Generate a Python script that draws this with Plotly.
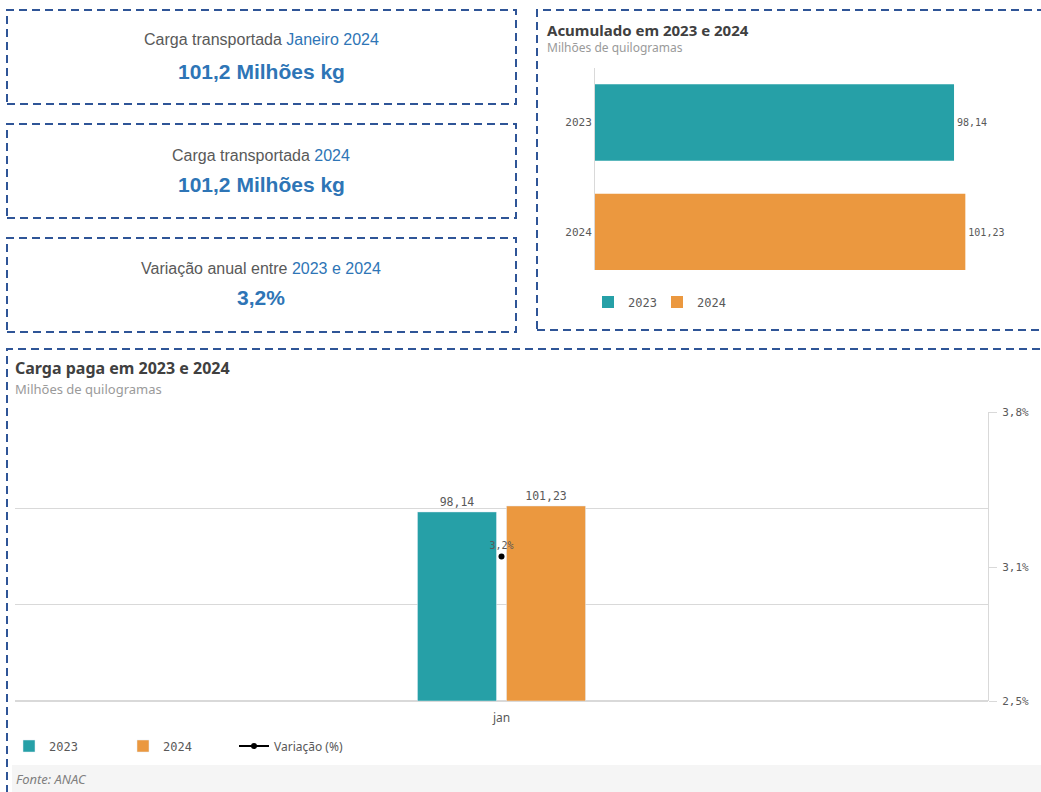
import plotly.graph_objects as go

W, H = 1041, 792

# ---- data ----
years = ["2023", "2024"]
acumulado = [98.14, 101.23]
months = ["jan"]
carga_2023 = [98.14]
carga_2024 = [101.23]
variacao = [3.15]
variacao_labels = ["3,2%"]
right_ticks = [2.5, 3.1, 3.8]
right_ticklabels = ["2,5%", "3,1%", "3,8%"]
kpi_titles = [("Carga transportada ", "Janeiro 2024"),
              ("Carga transportada ", "2024"),
              ("Variação anual entre ", "2023 e 2024")]
kpi_values = ["101,2 Milhões kg", "101,2 Milhões kg", "3,2%"]

TEAL = "#26a0a7"
ORANGE = "#eb983f"
BLUE = "#2e75b6"
DASH = "#2f5597"
GRAY = "#595959"
LIGHT = "#d9d9d9"
MONO = "DejaVu Sans Mono"
SANS = "Liberation Sans"
TITLE = "Noto Sans"


def px(x):
    return x / W


def py(y):
    return 1 - y / H


fig = go.Figure()

# ---- top-right horizontal bars ----
colors = [TEAL, ORANGE]
for i, (yr, v) in enumerate(zip(years, acumulado)):
    fig.add_trace(go.Bar(
        x=[v], y=[i], orientation="h", name=yr,
        marker=dict(color=colors[i], line=dict(width=0)),
        width=0.7, offset=-0.35,
        text=[f"{v:.2f}".replace(".", ",")], textposition="outside",
        textfont=dict(family=MONO, size=10, color=GRAY),
        cliponaxis=False, xaxis="x", yaxis="y", legend="legend",
        hoverinfo="skip",
    ))

# ---- bottom grouped bars ----
fig.add_trace(go.Bar(
    x=months, y=carga_2023, name="2023", marker=dict(color=TEAL),
    text=[f"{v:.2f}".replace(".", ",") for v in carga_2023], textposition="outside",
    textfont=dict(family=MONO, size=11.5, color=GRAY), cliponaxis=False,
    xaxis="x2", yaxis="y2", legend="legend2",
))
fig.add_trace(go.Bar(
    x=months, y=carga_2024, name="2024", marker=dict(color=ORANGE),
    text=[f"{v:.2f}".replace(".", ",") for v in carga_2024], textposition="outside",
    textfont=dict(family=MONO, size=11.5, color=GRAY), cliponaxis=False,
    xaxis="x2", yaxis="y2", legend="legend2",
))
fig.add_trace(go.Scatter(
    x=months, y=variacao, name="Variação (%)", mode="lines+markers+text",
    text=variacao_labels, textposition="top center",
    textfont=dict(family=MONO, size=10, color=GRAY),
    marker=dict(color="black", size=6), line=dict(color="black", width=2),
    cliponaxis=False, xaxis="x2", yaxis="y3", legend="legend3",
))

shapes = []
dash_line = dict(color=DASH, width=2, dash="8px,5px")
for (y0, y1) in [(10, 104), (124, 218), (238, 332)]:
    shapes.append(dict(type="rect", xref="paper", yref="paper",
                       x0=px(7), x1=px(516), y0=py(y1), y1=py(y0), line=dash_line))
shapes.append(dict(type="rect", xref="paper", yref="paper",
                   x0=px(537), x1=px(1060), y0=py(330), y1=py(10), line=dash_line))
shapes.append(dict(type="rect", xref="paper", yref="paper",
                   x0=px(7), x1=px(1060), y0=py(810), y1=py(349), line=dash_line))
shapes.append(dict(type="rect", xref="paper", yref="paper", layer="below",
                   x0=px(12), x1=px(1060), y0=py(800), y1=py(765),
                   fillcolor="#f5f5f5", line=dict(width=0)))

annotations = []
kpi_text_y = [40, 155, 268]
kpi_val_y = [71, 185, 297]
for (a, b), v, ty, vy in zip(kpi_titles, kpi_values, kpi_text_y, kpi_val_y):
    annotations.append(dict(xref="paper", yref="paper", x=px(261), y=py(ty),
                            xanchor="center", yanchor="middle", showarrow=False,
                            text=f"{a}<span style='color:{BLUE}'>{b}</span>",
                            font=dict(family=SANS, size=16, color=GRAY)))
    annotations.append(dict(xref="paper", yref="paper", x=px(261), y=py(vy),
                            xanchor="center", yanchor="middle", showarrow=False,
                            text=f"<b>{v}</b>",
                            font=dict(family=SANS, size=21, color=BLUE)))

annotations += [
    dict(xref="paper", yref="paper", x=px(545), y=py(30), xanchor="left", yanchor="middle",
         showarrow=False, text="<b>Acumulado em 2023 e 2024</b>",
         font=dict(family=TITLE, size=15, color="#404040")),
    dict(xref="paper", yref="paper", x=px(545), y=py(48), xanchor="left", yanchor="middle",
         showarrow=False, text="Milhões de quilogramas",
         font=dict(family=TITLE, size=12, color="#9a9a9a")),
    dict(xref="paper", yref="paper", x=px(13), y=py(368), xanchor="left", yanchor="middle",
         showarrow=False, text="<b>Carga paga em 2023 e 2024</b>",
         font=dict(family=TITLE, size=16, color="#404040")),
    dict(xref="paper", yref="paper", x=px(13), y=py(389), xanchor="left", yanchor="middle",
         showarrow=False, text="Milhões de quilogramas",
         font=dict(family=TITLE, size=13, color="#9a9a9a")),
    dict(xref="paper", yref="paper", x=px(14), y=py(779), xanchor="left", yanchor="middle",
         showarrow=False, text="<i>Fonte: ANAC</i>",
         font=dict(family=TITLE, size=13, color="#7f7f7f")),
]

fig.update_layout(
    width=W, height=H,
    margin=dict(l=0, r=0, t=0, b=0, pad=0, autoexpand=False),
    paper_bgcolor="white", plot_bgcolor="white",
    separators=",.",
    barmode="group", bargap=0.817, bargroupgap=0.112,
    shapes=shapes, annotations=annotations,
    xaxis=dict(domain=[px(595), px(1034)], range=[0, 120], showgrid=False, automargin=False,
               showticklabels=False, zeroline=False, showline=False, anchor="y"),
    yaxis=dict(domain=[py(270), py(68)], range=[1.347, -0.498], anchor="x", automargin=False,
               tickvals=[0, 1], ticktext=years, showgrid=False, zeroline=False,
               showline=True, linecolor=LIGHT, linewidth=1, ticks="",
               tickfont=dict(family=MONO, size=11, color=GRAY)),
    xaxis2=dict(domain=[px(15), px(988)], anchor="y2", showgrid=False, zeroline=False,
                showline=False, ticks="", range=[-0.5, 0.5], ticklabelstandoff=8,
                automargin=False, tickfont=dict(family=TITLE, size=12, color=GRAY)),
    yaxis2=dict(domain=[py(701), py(412)], anchor="x2", range=[0, 150], automargin=False,
                tickvals=[0, 50, 100, 150], showticklabels=False, showgrid=True,
                gridcolor=LIGHT, zeroline=True, zerolinecolor=LIGHT, showline=False, ticks=""),
    yaxis3=dict(overlaying="y2", side="right", anchor="x2", range=[2.5, 3.8],
                tickvals=right_ticks, ticktext=right_ticklabels, showgrid=False,
                zeroline=False, showline=True, linecolor=LIGHT, linewidth=1, automargin=False,
                ticks="outside", ticklen=8, tickcolor=LIGHT, ticklabelstandoff=3,
                tickfont=dict(family=MONO, size=11, color=GRAY)),
    legend=dict(orientation="h", x=px(588), y=py(302), xanchor="left", yanchor="middle",
                font=dict(family=MONO, size=12, color=GRAY), bgcolor="rgba(0,0,0,0)",
                entrywidth=24, itemwidth=30, traceorder="normal"),
    legend2=dict(orientation="h", x=px(9), y=py(746), xanchor="left", yanchor="middle",
                 font=dict(family=MONO, size=12, color=GRAY), bgcolor="rgba(0,0,0,0)",
                 entrywidth=69, itemwidth=30, traceorder="normal"),
    legend3=dict(orientation="h", x=px(234), y=py(746), xanchor="left", yanchor="middle",
                 font=dict(family=TITLE, size=12, color=GRAY), bgcolor="rgba(0,0,0,0)",
                 itemwidth=30),
    showlegend=True,
)

fig.write_html("out.html", config={"displayModeBar": False},
               post_script="document.body.style.margin='0px';document.body.style.overflow='hidden';")
